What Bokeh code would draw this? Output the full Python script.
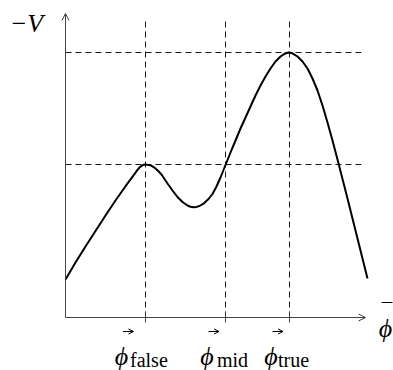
from bokeh.plotting import figure
from bokeh.models import Range1d, Arrow, OpenHead, ColumnDataSource
from bokeh.core.properties import value
from bokeh.embed import file_html
from bokeh.resources import INLINE

# field values (phi) and potential (-V)
phi_field = [0, 10, 20, 30, 40, 50, 60, 66, 72, 74, 76, 78, 80, 83, 86, 89, 92, 96,
             102, 107, 112, 117, 122, 125, 128, 131, 134, 138, 143, 147, 151,
             155, 160, 165, 170, 175, 180, 185, 190, 195, 200, 205, 210, 215,
             219, 223, 227, 232, 237, 242, 247, 252, 257, 262, 267, 272, 282,
             292, 302]
minus_v = [38, 55, 71, 86.5, 102, 117, 131.3, 139.4, 147.6, 150, 151.6, 152.7, 153,
           152.6, 151.6, 149.8, 147.2, 143, 134, 127, 120.5, 115.5, 112, 110.8,
           110.3, 110.6, 111.5, 113.8, 118.5, 123.5, 131, 140, 152.5, 165, 177,
           189, 200, 211, 222, 232, 241, 249, 256, 261, 263.7, 265, 264.2, 261,
           256, 249, 239, 227, 212, 195, 177, 158, 119, 79, 39]

tick_names = ["false", "mid", "true"]
tick_phi = [80, 160, 224]
level_v = [153, 265]  # -V at the false and the true vacuum

AX_X_END = 300
AX_Y_END = 304
GUIDE_TOP = 299
GUIDE_RIGHT = 297

p = figure(width=393, height=370, x_range=Range1d(-65, 328), y_range=Range1d(-53, 317),
           output_backend="svg", toolbar_location=None, min_border=0,
           x_axis_type=None, y_axis_type=None)
p.grid.visible = False
p.outline_line_color = None
p.background_fill_color = "white"
p.border_fill_color = "white"

# dashed guides
p.segment(x0=tick_phi, y0=[0] * 3, x1=tick_phi, y1=[GUIDE_TOP] * 3,
          line_color="black", line_width=0.9, line_dash="6 4")
p.segment(x0=[0] * 2, y0=level_v, x1=[GUIDE_RIGHT] * 2, y1=level_v,
          line_color="black", line_width=0.9, line_dash="6 4")

# axes
ax_col = "#444444"
p.add_layout(Arrow(end=OpenHead(size=7, line_width=1, line_color=ax_col), x_start=0, y_start=0,
                   x_end=AX_X_END, y_end=0, line_color=ax_col, line_width=1))
p.add_layout(Arrow(end=OpenHead(size=7, line_width=1, line_color=ax_col), x_start=0, y_start=0,
                   x_end=0, y_end=AX_Y_END, line_color=ax_col, line_width=1))
p.segment(x0=tick_phi, y0=[-5] * 3, x1=tick_phi, y1=[5] * 3, line_color=ax_col, line_width=1)

# curve
p.line(phi_field, minus_v, line_color="black", line_width=2, line_join="round")

# labels
SERIF = value("Liberation Serif")
phi_off = [-24, -18.5, -18.5]
sub_off = [-15.5, -8.5, -11.5]
phi_x = [t + o for t, o in zip(tick_phi, phi_off)]
sub_x = [t + o for t, o in zip(tick_phi, sub_off)]
p.text(x=phi_x, y=[-39] * 3, text=["ϕ"] * 3, text_font=SERIF,
       text_font_style="italic", text_font_size="26px", text_align="center",
       text_baseline="alphabetic", text_color="black")
vec_src = ColumnDataSource(dict(x0=[x + 1.5 for x in phi_x], x1=[x + 12 for x in phi_x],
                                y=[-14] * 3))
p.add_layout(Arrow(end=OpenHead(size=5, line_width=1, line_color="black"), source=vec_src,
                   x_start="x0", y_start="y", x_end="x1", y_end="y",
                   line_color="black", line_width=1))
p.text(x=sub_x, y=[-42] * 3, text=tick_names, text_font=SERIF,
       text_font_size="20px", text_align="left", text_baseline="alphabetic", text_color="black")

p.text(x=[-39], y=[294], text=["−V"], text_font=SERIF,
       text_font_style="italic", text_font_size="26px", text_align="center",
       text_baseline="alphabetic", text_color="black")
p.text(x=[320], y=[-11], text=["ϕ"], text_font=SERIF,
       text_font_style="italic", text_font_size="26px", text_align="center",
       text_baseline="alphabetic", text_color="black")
p.segment(x0=[316], y0=[15], x1=[327], y1=[15], line_color="black", line_width=1)

open("out.html", "w").write(file_html(p, INLINE))
